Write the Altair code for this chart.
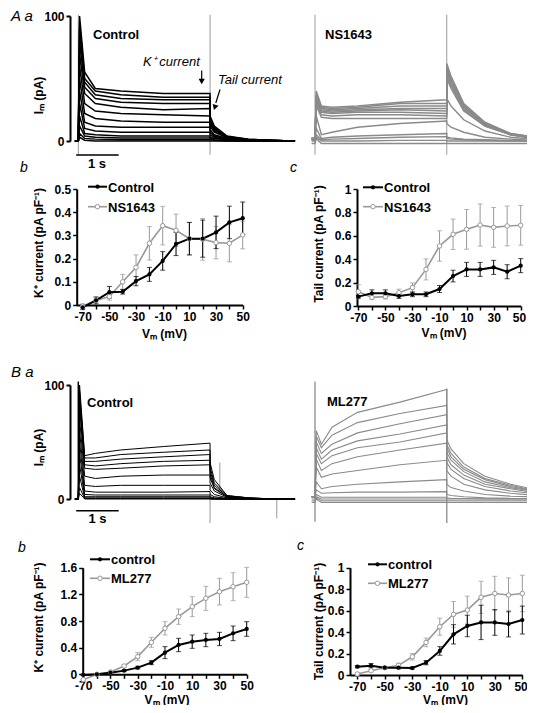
import altair as alt
import pandas as pd

# ------------------------------------------------------------------ data
VM = [-70, -60, -50, -40, -30, -20, -10, 0, 10, 20, 30, 40, 50]

# A b : K+ current (pA/pF)
AB_CTRL = [-0.01, 0.02, 0.055, 0.057, 0.103, 0.132, 0.19, 0.263, 0.286, 0.286, 0.313, 0.356, 0.374]
AB_CTRL_ERR = [0.01, 0.015, 0.025, 0.01, 0.02, 0.03, 0.04, 0.05, 0.07, 0.08, 0.07, 0.07, 0.07]
AB_NS = [-0.005, 0.02, 0.036, 0.1, 0.162, 0.266, 0.342, 0.322, 0.286, 0.283, 0.269, 0.266, 0.302]
AB_NS_ERR = [0.01, 0.01, 0.015, 0.032, 0.054, 0.072, 0.083, 0.07, 0.07, 0.09, 0.07, 0.08, 0.06]

# A c : tail current (pA/pF)
AC_CTRL = [0.08, 0.108, 0.108, 0.085, 0.1, 0.1, 0.145, 0.256, 0.313, 0.313, 0.33, 0.293, 0.345]
AC_CTRL_ERR = [0.01, 0.03, 0.03, 0.02, 0.02, 0.02, 0.03, 0.05, 0.06, 0.06, 0.06, 0.06, 0.06]
AC_NS = [0.122, 0.074, 0.08, 0.114, 0.157, 0.313, 0.513, 0.613, 0.655, 0.692, 0.672, 0.684, 0.69]
AC_NS_ERR = [0.06, 0.02, 0.02, 0.03, 0.04, 0.09, 0.13, 0.13, 0.17, 0.18, 0.17, 0.17, 0.17]

# B b : K+ current (pA/pF)
BB_CTRL = [-0.01, 0.0, 0.025, 0.055, 0.1, 0.175, 0.325, 0.44, 0.49, 0.515, 0.53, 0.615, 0.68]
BB_CTRL_ERR = [0.005, 0.005, 0.01, 0.01, 0.02, 0.03, 0.09, 0.1, 0.1, 0.1, 0.1, 0.11, 0.11]
BB_ML = [-0.08, 0.0, 0.035, 0.125, 0.265, 0.48, 0.69, 0.865, 1.015, 1.14, 1.24, 1.315, 1.38]
BB_ML_ERR = [0.01, 0.01, 0.01, 0.02, 0.06, 0.075, 0.1, 0.115, 0.15, 0.18, 0.2, 0.21, 0.225]

# B c : tail current (pA/pF)
BC_CTRL = [0.078, 0.087, 0.068, 0.068, 0.065, 0.115, 0.224, 0.379, 0.457, 0.49, 0.49, 0.475, 0.512]
BC_CTRL_ERR = [0.01, 0.02, 0.01, 0.01, 0.01, 0.02, 0.04, 0.09, 0.1, 0.16, 0.12, 0.12, 0.13]
BC_ML = [0.01, 0.04, 0.068, 0.09, 0.17, 0.304, 0.45, 0.565, 0.605, 0.724, 0.76, 0.745, 0.76]
BC_ML_ERR = [0.01, 0.01, 0.01, 0.02, 0.03, 0.04, 0.08, 0.12, 0.13, 0.15, 0.16, 0.16, 0.17]

# current traces: sample times (s) and one list of currents (pA) per sweep
T = [-0.08, 0.0, 0.03, 0.15, 0.4, 1.0, 2.0, 3.1, 3.1, 3.2, 3.5, 4.0, 4.6, 5.1]

A_CTRL_SWEEPS = [
    [0, 0, 3, 0.5, 0, 0, 0, 0, 0, 0, 0, 0, 0, 0],
    [0, 0, 6, 2, 1.5, 1, 1, 1, 1, 0.5, 0, 0, 0, 0],
    [0, 0, 12, 4, 3, 2.5, 2.5, 2.5, 2, 1, 0.5, 0, 0, 0],
    [0, 0, 20, 6, 5, 4, 4, 4, 3, 2, 1, 0.5, 0, 0],
    [0, 0, 30, 10, 8, 7, 7, 7, 5, 3, 1, 0.5, 0, 0],
    [0, 0, 40, 15, 12, 11, 11, 11, 7, 4, 1.5, 0.5, 0, 0],
    [0, 0, 50, 22, 18, 16, 15, 15, 9, 5, 2, 1, 0.5, 0],
    [0, 0, 60, 30, 24, 22, 21, 20, 12, 7, 2.5, 1, 0.5, 0],
    [0, 0, 70, 38, 30, 27, 25, 26, 14, 8, 3, 1, 0.5, 0],
    [0, 0, 80, 43, 34, 31, 30, 30, 16, 9, 3, 1, 0.5, 0],
    [0, 0, 90, 47, 37, 34, 33, 33, 17, 10, 3.5, 1, 0.5, 0],
    [0, 0, 95, 50, 40, 37, 35, 35, 18, 11, 3.5, 1.5, 0.5, 0],
    [0, 0, 100, 55, 42, 40, 38, 38, 20, 12, 4, 1.5, 0.5, 0],
]

A_NS_SWEEPS = [
    [-2, -2, 2, -2, -2, -2, -2, -2, -2, -2, -2, -2, -2, -2],
    [0, 0, 3, 0, 0, 0, 0.5, 0.5, 0, 0, 0, 0, 0, 0],
    [1, 1, 5, 1, 1.5, 2, 3, 3.5, 2, 1.5, 1, 0.5, 0, 0],
    [1, 1, 10, 2, 3, 4, 5, 6, 3, 2.5, 1.5, 1, 0.5, 0.5],
    [2, 2, 20, 5, 7, 11, 14, 16, 14, 11, 7, 3, 1.5, 0.5],
    [2, 2, 28, 19, 18, 18, 18, 18, 34, 28, 17, 8, 3, 1.5],
    [2, 2, 30, 21, 20, 21, 21, 20, 50, 42, 24, 12, 5, 2.5],
    [2, 2, 32, 23, 22, 23, 23, 22, 52, 44, 25, 12, 5, 2.5],
    [2, 2, 34, 24, 23, 24, 25, 24, 54, 46, 26, 13, 5, 3],
    [2, 2, 35, 25, 24, 25, 26, 26, 56, 47, 27, 13, 5.5, 3],
    [2, 2, 36, 26, 25, 26, 28, 28, 58, 49, 28, 14, 5.5, 3],
    [2, 2, 38, 27, 26, 27, 30, 30, 60, 50, 29, 14, 6, 3.5],
    [2, 2, 40, 28, 27, 28, 31, 33, 62, 52, 30, 15, 6, 3.5],
]

B_CTRL_SWEEPS = [
    [0, 0, 5, 0, 0, 0, 0, 0, 0, 0, 0, 0, 0, 0],
    [0, 0, 10, 0.5, 0.5, 0.5, 0.5, 0.5, 0, 0, 0, 0, 0, 0],
    [0, 0, 20, 1, 1, 1, 1, 1, 0.5, 0, 0, 0, 0, 0],
    [0, 0, 30, 2, 2, 2, 2, 2, 1, 0.5, 0, 0, 0, 0],
    [0, 0, 40, 4, 3.5, 3.5, 3.5, 3.5, 2, 1, 0, 0, 0, 0],
    [0, 0, 50, 7, 6, 6, 6, 6.5, 4, 2, 0.5, 0, 0, 0],
    [0, 0, 60, 12, 11, 12, 12, 12, 8, 4, 1, 0, 0, 0],
    [0, 0, 70, 20, 18, 20, 21, 21, 14, 7, 1.5, 0.5, 0, 0],
    [0, 0, 80, 27, 26, 27, 29, 30, 19, 9, 2, 0.5, 0, 0],
    [0, 0, 85, 30, 29, 31, 33, 34, 22, 10, 2, 0.5, 0, 0],
    [0, 0, 90, 33, 33, 35, 37, 39, 25, 12, 2.5, 1, 0, 0],
    [0, 0, 95, 36, 36, 39, 41, 43, 28, 14, 3, 1, 0, 0],
    [0, 0, 100, 38, 40, 43, 46, 49, 32, 17, 3, 1, 0, 0],
]

B_ML_SWEEPS = [
    [-3, -3, 0, -3, -3, -3, -3, -3, -3, -3, -3, -3, -3, -3],
    [-1.5, -1.5, 1, -1.5, -1.5, -1.5, -1.5, -1.5, -1.5, -1.5, -1.5, -1.5, -1.5, -1.5],
    [0, 0, 2, 0, 0, 0, 0, 0, 0, 0, 0, 0, 0, 0],
    [1.5, 1.5, 4, 1.5, 1.5, 1.5, 1.5, 1.5, 1, 0.5, 0.5, 0, 0, 0],
    [2, 2, 8, 5, 5.5, 6, 6, 6.5, 4, 3, 2, 1, 0.5, 0.5],
    [2, 2, 15, 9, 11, 13, 15, 17, 13, 10, 7, 4, 2.5, 2],
    [2, 2, 28, 19, 22, 25, 30, 34, 25, 20, 13, 8, 5, 3.5],
    [2, 2, 35, 25, 31, 37, 43, 49, 32, 26, 18, 11, 7, 5],
    [2, 2, 40, 31, 38, 45, 50, 58, 37, 30, 21, 13, 9, 6],
    [2, 2, 45, 35, 43, 51, 57, 65, 41, 34, 24, 15, 10, 7],
    [2, 2, 50, 40, 48, 58, 66, 74, 45, 37, 26, 17, 11, 7.5],
    [2, 2, 55, 45, 56, 67, 75, 82, 48, 40, 28, 18, 12, 8],
    [2, 2, 60, 48, 63, 76, 85, 96, 52, 44, 31, 20, 13, 9],
]

# capacitive transients / artefacts drawn as vertical lines: time (s), from, to (pA)
A_TRANS_T = [0.0, 3.1]
A_TRANS_LO = [-11, -11]
A_TRANS_HI = [101, 101]
BC_TRANS_T = [3.1, 3.33, 4.67]
BC_TRANS_LO = [0, 5, 0]
BC_TRANS_HI = [-21, 32, -17]
BC_SPIKE_T = [0.0]
BC_SPIKE_LO = [0]
BC_SPIKE_HI = [103]
BM_TRANS_T = [0.0, 3.1]
BM_TRANS_LO = [-20, -21]
BM_TRANS_HI = [103, 97]

SCALEBAR_T = [-0.05, 0.95]  # 1 s

# ------------------------------------------------------------------ style / layout
W, H = 519, 697
M = 8
FONT = "Liberation Sans"
BLACK = "#000000"
GREY_TR = "#8a8a8a"
GREY_IV = "#999999"
GREY_RULE = "#9a9a9a"
ONE = pd.DataFrame({"k": [0]})


def P(v):
    return v - M


def sc(d, r):
    return alt.Scale(domain=d, range=[P(r[0]), P(r[1])], nice=False, zero=False)


# page-pixel geometry of each panel (domain -> range), axis title centres
G_AT_C = dict(xd=[-0.1, 5.1], xr=[74.05, 295.05], yd=[0, 100], yr=[141, 16], ax=70, ty=(38, 95))
G_AT_N = dict(xd=[-0.1, 5.1], xr=[310.75, 531.75], yd=[0, 100], yr=[141, 16])
G_BT_C = dict(xd=[-0.1, 5.1], xr=[74.05, 295.05], yd=[0, 100], yr=[499, 385], ax=70, ty=(38, 447))
G_BT_M = dict(xd=[-0.1, 5.1], xr=[310.75, 531.75], yd=[0, 100], yr=[499, 385])
G_AB = dict(xd=[-74.5, 50], xr=[76.7, 242.7], yd=[0, 0.5], yr=[305, 189], ty=(38.5, 242.5),
            tx=(164, 333), flush=False)
G_AC = dict(xd=[-71, 50], xr=[357, 520.7], yd=[0, 1], yr=[306, 189], ty=(318.5, 243.5),
            tx=(443.5, 332.5), flush=0.5)
G_BB = dict(xd=[-70.4, 50], xr=[82.7, 246.7], yd=[0, 1.6], yr=[674.3, 567.7], ty=(38.5, 617),
            tx=(166.5, 699), flush=False)
G_BC = dict(xd=[-75.3, 50], xr=[350, 522.3], yd=[0, 1], yr=[675, 567.7], ty=(318.5, 621),
            tx=(445, 699), flush=0.5)


def txt(x, y, s, size=13, weight="bold", style="normal", align="left", color=BLACK):
    return alt.Chart(ONE).mark_text(
        text=s, font=FONT, fontSize=size, fontWeight=weight, fontStyle=style,
        align=align, baseline="alphabetic", color=color,
    ).encode(x=alt.value(P(x)), y=alt.value(P(y)))


def seg(x0, y0, x1, y1, color=BLACK, w=1.2):
    return alt.Chart(ONE).mark_rule(color=color, strokeWidth=w).encode(
        x=alt.value(P(x0)), y=alt.value(P(y0)), x2=alt.value(P(x1)), y2=alt.value(P(y1)))


def head(x, y, angle=0, size=40):
    return alt.Chart(ONE).mark_point(
        shape="triangle-down", filled=True, color=BLACK, size=size, angle=angle, opacity=1
    ).encode(x=alt.value(P(x)), y=alt.value(P(y)))


def trace_layers(g, sweeps, color, width, trans, bar_y=None, axis=False):
    xs_, ys_ = sc(g["xd"], g["xr"]), sc(g["yd"], g["yr"])
    rows = []
    for s, vals in enumerate(sweeps):
        for i, (t, v) in enumerate(zip(T, vals)):
            rows.append({"t": t, "I": v, "sweep": s, "i": i})
    df = pd.DataFrame(rows)
    out = []
    for (tt, lo, hi, col, sw) in trans:
        tdf = pd.DataFrame({"t": tt, "lo": lo, "hi": hi})
        out.append(alt.Chart(tdf).mark_rule(color=col, strokeWidth=sw).encode(
            x=alt.X("t:Q", scale=xs_, axis=None),
            y=alt.Y("lo:Q", scale=ys_, axis=None), y2="hi:Q"))
    yax = None
    if axis:
        yax = alt.Axis(orient="left", offset=-P(g["ax"]), values=[0, 100], title="Iₘ (pA)",
                       titleX=g["ty"][0] - g["ax"], titleY=P(g["ty"][1]), titleBaseline="middle",
                       titleAlign="center", titleAngle=270,
                       tickSize=4, labelPadding=2, domainWidth=2, tickWidth=2)
    out.append(alt.Chart(df).mark_line(color=color, strokeWidth=width).encode(
        x=alt.X("t:Q", scale=xs_, axis=None),
        y=alt.Y("I:Q", scale=ys_, axis=yax),
        detail="sweep:N", order="i:Q"))
    if bar_y is not None:
        bdf = pd.DataFrame({"t0": [SCALEBAR_T[0]], "t1": [SCALEBAR_T[1]], "I": [bar_y]})
        out.append(alt.Chart(bdf).mark_rule(color=BLACK, strokeWidth=1.5).encode(
            x=alt.X("t0:Q", scale=xs_, axis=None), x2="t1:Q",
            y=alt.Y("I:Q", scale=ys_, axis=None)))
    return out


def iv_layers(g, ctrl, ctrl_err, drug, drug_err, yvals, ytitle, leg, names):
    xs_, ys_ = sc(g["xd"], g["xr"]), sc(g["yd"], g["yr"])
    out = []
    dfs = {}
    for key, vals, errs in (("d", drug, drug_err), ("c", ctrl, ctrl_err)):
        dfs[key] = pd.DataFrame({"Vm": VM, "I": vals,
                                 "lo": [v - e for v, e in zip(vals, errs)],
                                 "hi": [v + e for v, e in zip(vals, errs)]})
    X = lambda ax=None: alt.X("Vm:Q", scale=xs_, axis=ax)
    for key, col in (("d", GREY_IV), ("c", BLACK)):
        d = dfs[key]
        out.append(alt.Chart(d).mark_rule(color=col, strokeWidth=1).encode(
            x=X(), y=alt.Y("lo:Q", scale=ys_, axis=None), y2="hi:Q"))
        for f in ("lo", "hi"):
            out.append(alt.Chart(d).mark_tick(orient="horizontal", color=col, size=5, thickness=1).encode(
                x=X(), y=alt.Y(f + ":Q", scale=ys_, axis=None)))
    xax = alt.Axis(orient="bottom", offset=P(g["yr"][0]) - H, values=VM,
                   labelFlush=g["flush"], labelFlushOffset=5,
                   labelExpr="datum.value % 20 != 0 ? '' + datum.value : ''",
                   title="Vₘ (mV)", titleX=P(g["tx"][0]), titleY=g["tx"][1] - g["yr"][0],
                   titleBaseline="middle", titleAlign="center",
                   tickSize=4, labelPadding=2, domainWidth=2, tickWidth=1.5)
    yax = alt.Axis(orient="left", offset=-P(g["xr"][0]), values=yvals, format=".1~f",
                   title=ytitle, titleX=g["ty"][0] - g["xr"][0], titleY=P(g["ty"][1]),
                   titleBaseline="middle", titleAlign="center", titleAngle=270,
                   tickSize=4, labelPadding=2, domainWidth=2, tickWidth=1.5)
    out.append(alt.Chart(dfs["d"]).mark_line(color=GREY_IV, strokeWidth=1.6).encode(
        x=X(), y=alt.Y("I:Q", scale=ys_, axis=None)))
    out.append(alt.Chart(dfs["c"]).mark_line(color=BLACK, strokeWidth=2).encode(
        x=X(xax), y=alt.Y("I:Q", scale=ys_, axis=yax)))
    out.append(alt.Chart(dfs["d"]).mark_point(shape="circle", filled=True, fill="white", stroke=GREY_IV,
                                              strokeWidth=1, size=20, opacity=1).encode(
        x=X(), y=alt.Y("I:Q", scale=ys_, axis=None)))
    out.append(alt.Chart(dfs["c"]).mark_point(shape="circle", filled=True, color=BLACK,
                                              size=18, opacity=1).encode(
        x=X(), y=alt.Y("I:Q", scale=ys_, axis=None)))
    # legend
    lx0, lx1, ly0, ly1 = leg
    out.append(seg(lx0, ly0, lx1, ly0, BLACK, 2))
    out.append(seg(lx0, ly1, lx1, ly1, GREY_IV, 1.6))
    out.append(alt.Chart(ONE).mark_point(shape="circle", filled=True, color=BLACK, size=18, opacity=1)
               .encode(x=alt.value(P((lx0 + lx1) / 2)), y=alt.value(P(ly0))))
    out.append(alt.Chart(ONE).mark_point(shape="circle", filled=True, fill="white", stroke=GREY_IV,
                                         strokeWidth=1, size=20, opacity=1)
               .encode(x=alt.value(P((lx0 + lx1) / 2)), y=alt.value(P(ly1))))
    out.append(txt(lx1 + 1, ly0 + 5, names[0]))
    out.append(txt(lx1 + 1, ly1 + 5, names[1]))
    return out


layers = []
# ---- A a
layers += trace_layers(G_AT_C, A_CTRL_SWEEPS, BLACK, 1.5,
                       [(A_TRANS_T, A_TRANS_LO, A_TRANS_HI, GREY_RULE, 1)], bar_y=-11.2, axis=True)
layers += trace_layers(G_AT_N, A_NS_SWEEPS, GREY_TR, 1.4,
                       [(A_TRANS_T, A_TRANS_LO, A_TRANS_HI, GREY_RULE, 1)])
layers += [
    txt(11, 21, "A a", size=15, weight="normal", style="italic"),
    txt(93, 38.5, "Control"),
    txt(325, 38.5, "NS1643"),
    txt(143, 65.5, "K⁺ current", weight="normal", style="italic"),
    txt(218, 83.5, "Tail current", weight="normal", style="italic"),
    seg(201.7, 70.5, 201.7, 80),
    head(201.7, 81.5),
    seg(220, 89.5, 215.8, 103),
    head(214.8, 107.5, angle=18),
    txt(97, 168, "1 s", align="center"),
    txt(20, 172, "b", size=14, weight="normal", style="italic"),
    txt(290, 172, "c", size=14, weight="normal", style="italic"),
]
# ---- A b, A c
layers += iv_layers(G_AB, AB_CTRL, AB_CTRL_ERR, AB_NS, AB_NS_ERR, [0, 0.1, 0.2, 0.3, 0.4, 0.5],
                    "K⁺ current  (pA pF⁻¹)", (88, 107, 186.7, 206.7), ("Control", "NS1643"))
layers += iv_layers(G_AC, AC_CTRL, AC_CTRL_ERR, AC_NS, AC_NS_ERR, [0, 0.2, 0.4, 0.6, 0.8, 1],
                    "Tail current (pA pF⁻¹)", (363, 383, 187.3, 206.7), ("Control", "NS1643"))
# ---- B a
layers += trace_layers(G_BT_C, B_CTRL_SWEEPS, BLACK, 1.0,
                       [(BC_TRANS_T, BC_TRANS_LO, BC_TRANS_HI, GREY_RULE, 1),
                        (BC_SPIKE_T, BC_SPIKE_LO, BC_SPIKE_HI, BLACK, 1.5)], bar_y=-10.3, axis=True)
layers += trace_layers(G_BT_M, B_ML_SWEEPS, GREY_TR, 1.1,
                       [(BM_TRANS_T, BM_TRANS_LO, BM_TRANS_HI, GREY_RULE, 1.5)])
layers += [
    txt(11, 377, "B a", size=15, weight="normal", style="italic"),
    txt(87, 406.5, "Control"),
    txt(327, 406, "ML277"),
    txt(97.5, 523, "1 s", align="center"),
    txt(18, 551.5, "b", size=14, weight="normal", style="italic"),
    txt(297, 550, "c", size=14, weight="normal", style="italic"),
]
# ---- B b, B c
layers += iv_layers(G_BB, BB_CTRL, BB_CTRL_ERR, BB_ML, BB_ML_ERR, [0, 0.4, 0.8, 1.2, 1.6],
                    "K⁺ current  (pA pF⁻¹)", (90, 110, 559.3, 578.3), ("control", "ML277"))
layers += iv_layers(G_BC, BC_CTRL, BC_CTRL_ERR, BC_ML, BC_ML_ERR, [0, 0.2, 0.4, 0.6, 0.8, 1],
                    "Tail current (pA pF⁻¹)", (368, 387, 564.3, 583.3), ("control", "ML277"))

chart = (
    alt.layer(*layers)
    .resolve_scale(x="independent", y="independent")
    .properties(width=W, height=H, padding=0, background="white",
                autosize=alt.AutoSizeParams(type="none"))
    .configure_view(stroke=None)
    .configure_axis(grid=False, labelFont=FONT, titleFont=FONT, labelFontSize=12, titleFontSize=12,
                    labelFontWeight="bold", titleFontWeight="bold", labelColor=BLACK, titleColor=BLACK,
                    domainColor=BLACK, tickColor=BLACK)
)

chart.save("out.html", embed_options={"renderer": "svg", "actions": False})
